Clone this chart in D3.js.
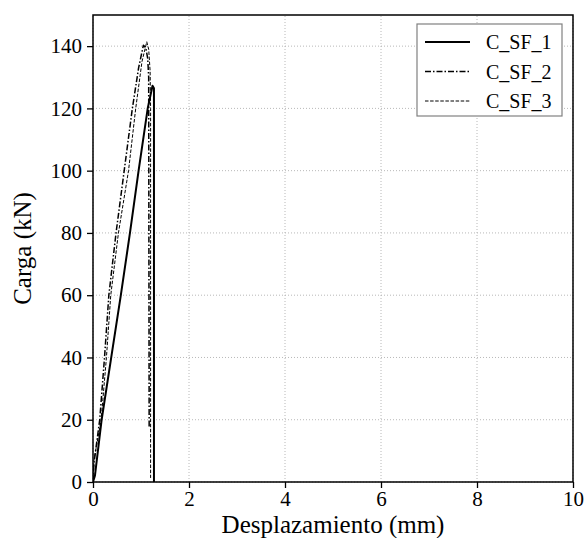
<!DOCTYPE html>
<html>
<head>
<meta charset="utf-8">
<script src="https://cdn.jsdelivr.net/npm/d3@7"></script>
<style>
  html, body { margin: 0; padding: 0; background: #fff; }
  svg { display: block; }
  svg text { font-family: "Liberation Serif", "Times New Roman", Times, "DejaVu Serif", serif; }
</style>
</head>
<body>
<svg id="chart" width="584" height="538"></svg>
<script>
// Load–displacement curves of the three C_SF specimens
const seriesNames = ["C_SF_1", "C_SF_2", "C_SF_3"];

const sf1Disp = [0, 0.04, 0.18, 0.38, 0.58, 0.77, 0.95, 1.14, 1.24, 1.27, 1.27];
const sf1Load = [0, 2, 20, 40, 60, 80, 100, 120, 127.3, 126.5, 0];

const sf2Disp = [0, 0.02, 0.14, 0.24, 0.33, 0.48, 0.65, 0.82, 0.95, 1.05, 1.10, 1.14, 1.16, 1.17];
const sf2Load = [0, 6, 20, 40, 60, 80, 100, 120, 133, 140.3, 139.5, 136, 130, 17.5];

const sf3Disp = [0, 0.02, 0.17, 0.28, 0.37, 0.53, 0.74, 0.89, 1.02, 1.12, 1.16, 1.19, 1.20, 1.20];
const sf3Load = [0, 7, 20, 40, 60, 80, 100, 120, 135, 141.4, 139, 132, 120, 1.3];

const xTicks = [0, 2, 4, 6, 8, 10];
const yTicks = [0, 20, 40, 60, 80, 100, 120, 140];

const svg = d3.select("#chart");
const m = { left: 93, right: 11, top: 15, bottom: 56 };
const W = 584, H = 538;
const x = d3.scaleLinear().domain([0, 10]).range([m.left, W - m.right]);
const y = d3.scaleLinear().domain([0, 150]).range([H - m.bottom, m.top]);

// Dotted grid
const grid = svg.append("g");
grid.selectAll("line.gx").data(xTicks).join("line")
  .attr("x1", d => x(d)).attr("x2", d => x(d))
  .attr("y1", y(0)).attr("y2", y(150))
  .attr("stroke", "#b0b0b0").attr("stroke-width", 0.9).attr("stroke-dasharray", "1,2");
grid.selectAll("line.gy").data(yTicks).join("line")
  .attr("y1", d => y(d)).attr("y2", d => y(d))
  .attr("x1", x(0)).attr("x2", x(10))
  .attr("stroke", "#b0b0b0").attr("stroke-width", 0.9).attr("stroke-dasharray", "1,2");

// Curves
svg.append("clipPath").attr("id", "plotclip").append("rect")
  .attr("x", x(0)).attr("y", y(150)).attr("width", x(10) - x(0)).attr("height", y(0) - y(150));

const styles = [
  { w: 2.0, dash: null },
  { w: 1.5, dash: "6,2,1.5,2" },
  { w: 1.0, dash: "3.5,1.6" }
];
const data = [
  d3.zip(sf1Disp, sf1Load),
  d3.zip(sf2Disp, sf2Load),
  d3.zip(sf3Disp, sf3Load)
];
const line = d3.line().x(d => x(d[0])).y(d => y(d[1]));
const curves = svg.append("g").attr("clip-path", "url(#plotclip)");
data.forEach((pts, i) => {
  curves.append("path").datum(pts)
    .attr("d", line)
    .attr("fill", "none")
    .attr("stroke", "#000")
    .attr("stroke-width", styles[i].w)
    .attr("stroke-linejoin", "round")
    .attr("stroke-dasharray", styles[i].dash);
});

// Axes
const xAxis = svg.append("g").attr("transform", `translate(0,${y(0)})`)
  .call(d3.axisBottom(x).tickValues(xTicks).tickSize(6).tickPadding(3).tickFormat(d3.format("d")));
const yAxis = svg.append("g").attr("transform", `translate(${x(0)},0)`)
  .call(d3.axisLeft(y).tickValues(yTicks).tickSize(6).tickPadding(5).tickFormat(d3.format("d")));
[xAxis, yAxis].forEach(a => {
  a.attr("font-family", null).attr("font-size", null);
  a.select(".domain").remove();
  a.selectAll(".tick line").attr("stroke", "#000").attr("stroke-width", 1.3);
  a.selectAll(".tick text").attr("fill", "#000").style("font-size", "21px");
});
xAxis.selectAll(".tick text").attr("dy", "0.72em");

// Frame
svg.append("rect")
  .attr("x", x(0)).attr("y", y(150)).attr("width", x(10) - x(0)).attr("height", y(0) - y(150))
  .attr("fill", "none").attr("stroke", "#000").attr("stroke-width", 1.5);

// Axis titles
svg.append("text")
  .attr("x", (x(0) + x(10)) / 2).attr("y", 533)
  .attr("text-anchor", "middle").style("font-size", "25px")
  .text("Desplazamiento (mm)");
svg.append("text")
  .attr("transform", `translate(31,${(y(0) + y(150)) / 2}) rotate(-90)`)
  .attr("text-anchor", "middle").style("font-size", "25px")
  .text("Carga (kN)");

// Legend
const lg = svg.append("g");
lg.append("rect")
  .attr("x", 417).attr("y", 24).attr("width", 145).attr("height", 92)
  .attr("fill", "#fff").attr("stroke", "#808080").attr("stroke-width", 1.2);
seriesNames.forEach((name, i) => {
  const cy = 42 + i * 29.5;
  lg.append("line")
    .attr("x1", 425).attr("x2", 470).attr("y1", cy).attr("y2", cy)
    .attr("stroke", "#000").attr("stroke-width", styles[i].w)
    .attr("stroke-dasharray", styles[i].dash);
  lg.append("text")
    .attr("x", 486).attr("y", cy + 7)
    .style("font-size", "20px")
    .text(name);
});
</script>
</body>
</html>
